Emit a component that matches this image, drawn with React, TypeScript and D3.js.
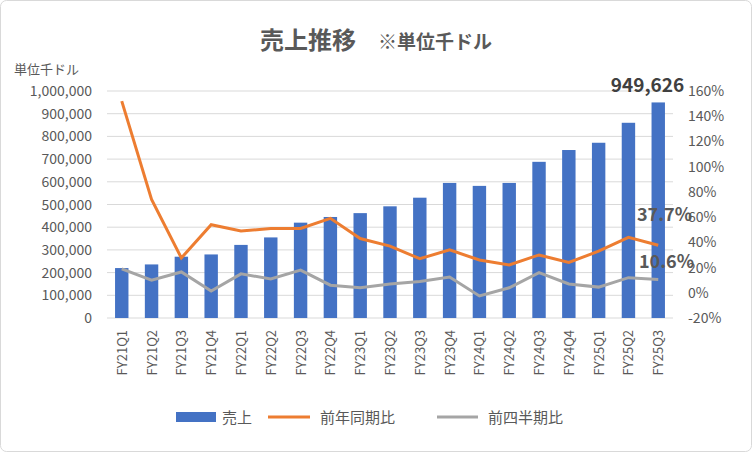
import React from 'react';
import * as d3 from 'd3';

const categories = ['FY21Q1','FY21Q2','FY21Q3','FY21Q4','FY22Q1','FY22Q2','FY22Q3','FY22Q4','FY23Q1','FY23Q2','FY23Q3','FY23Q4','FY24Q1','FY24Q2','FY24Q3','FY24Q4','FY25Q1','FY25Q2','FY25Q3'];
const sales = [220000,236000,270000,280000,322000,355000,420000,445000,462000,492000,530000,595000,582000,595000,688000,740000,772000,860000,949626];
const yoy = [152,74,27.6,54,49,51,51,59,43,37,27,34,26,22,30,24,33,44,37.7];
const qoq = [19,10,16.5,1.4,15,11,18,6,4,7,9,12.5,-2.5,4,16,7,4.5,12,10.6];
const leftTicks = d3.range(0, 1000001, 100000);
const rightTicks = d3.range(-20, 161, 20);

const font = '"Noto Sans CJK JP", "Noto Sans", sans-serif';

export default function App() {
  const W = 752, H = 452;
  const x = d3.scaleBand().domain(categories).range([107, 673]).paddingInner(0.55).paddingOuter(0.27);
  const yL = d3.scaleLinear().domain([0, 1000000]).range([318, 91]);
  const yR = d3.scaleLinear().domain([-20, 160]).range([318, 91]);
  const cx = (c: string) => (x(c) as number) + x.bandwidth() / 2;
  const line = (vals: number[]) =>
    d3.line<number>().x((_, i) => cx(categories[i])).y(d => yR(d))(vals) as string;
  const last = categories[categories.length - 1];
  return (
    <svg width={W} height={H} style={{ position: 'absolute', left: 0, top: 0, fontFamily: font }}>
      <rect x={0.5} y={0.5} width={W - 1} height={H - 1} rx={6} fill="#fff" stroke="#d9d9d9" />
      <text x={376} y={49} textAnchor="middle" fontSize={24} fontWeight="bold" fill="#595959">
        売上推移<tspan fontSize={19} dx={22}>※単位千ドル</tspan>
      </text>
      <text x={14} y={74} fontSize={13} fill="#595959">単位千ドル</text>
      {leftTicks.map(t => (
        <line key={t} x1={107} x2={673} y1={yL(t)} y2={yL(t)} stroke="#d9d9d9" />
      ))}
      {leftTicks.map(t => (
        <text key={t} x={92} y={yL(t) + 5} textAnchor="end" fontSize={14} fill="#595959">{d3.format(',')(t)}</text>
      ))}
      {rightTicks.map(t => (
        <text key={t} x={688} y={yR(t) + 5} fontSize={14} fill="#595959">{t}%</text>
      ))}
      {categories.map((c, i) => (
        <rect key={c} x={x(c)} y={yL(sales[i])} width={x.bandwidth()} height={318 - yL(sales[i])} fill="#4472c4" />
      ))}
      <path d={line(yoy)} fill="none" stroke="#ed7d31" strokeWidth={3} />
      <path d={line(qoq)} fill="none" stroke="#a5a5a5" strokeWidth={3} />
      {categories.map(c => (
        <text key={c} transform={`translate(${cx(c) + 5},330) rotate(-90)`} textAnchor="end" fontSize={13} fill="#595959">{c}</text>
      ))}
      <text x={cx(last) + 26} y={yL(sales[sales.length - 1]) - 10} textAnchor="end" fontSize={19} fontWeight="bold" fill="#404040">949,626</text>
      <text x={637} y={221} fontSize={18} fontWeight="bold" fill="#595959">37.7%</text>
      <text x={639} y={268} fontSize={18} fontWeight="bold" fill="#595959">10.6%</text>
      <g fontSize={15} fill="#595959">
        <rect x={176} y={412} width={40} height={10} fill="#4472c4" />
        <text x={222} y={423}>売上</text>
        <line x1={268} x2={310} y1={417} y2={417} stroke="#ed7d31" strokeWidth={3} />
        <text x={320} y={423}>前年同期比</text>
        <line x1={437} x2={478} y1={417} y2={417} stroke="#a5a5a5" strokeWidth={3} />
        <text x={488} y={423}>前四半期比</text>
      </g>
    </svg>
  );
}
